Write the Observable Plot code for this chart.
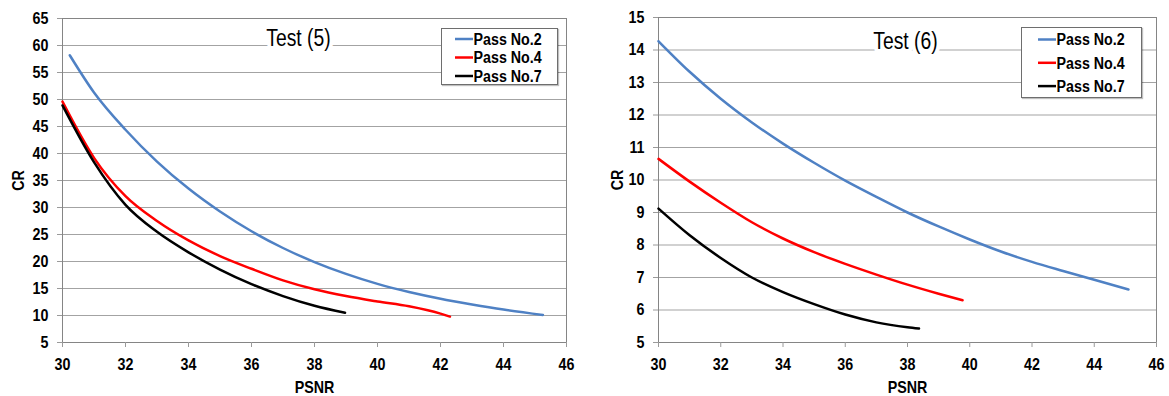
<!DOCTYPE html>
<html>
<head>
<meta charset="utf-8">
<script src="https://cdn.jsdelivr.net/npm/d3@7"></script>
<script src="https://cdn.jsdelivr.net/npm/@observablehq/plot@0.6"></script>
<style>
  html, body { margin: 0; padding: 0; background: #fff; }
  #wrap { position: relative; width: 1169px; height: 396px; overflow: hidden;
          font-family: "Liberation Sans", Arial, sans-serif; }
  .panel { position: absolute; top: 0; }
  .legend { position: absolute; background: #fff; border: 1px solid #6e6e6e;
            box-shadow: 1px 1px 1px rgba(0,0,0,0.25); }
  .legend svg { display: block; }
</style>
</head>
<body>
<div id="wrap"></div>
<script>
// Series names and colours shared by both panels
const seriesNames = ["Pass No.2", "Pass No.4", "Pass No.7"];
const seriesColors = ["#4f81c4", "#ff0000", "#000000"];

// Shared x ticks (PSNR)
const xTicks = [30, 32, 34, 36, 38, 40, 42, 44, 46];

// Test (5): compression ratio (CR) against PSNR
const test5Title = "Test (5)";
const test5YTicks = [5, 10, 15, 20, 25, 30, 35, 40, 45, 50, 55, 60, 65];
const test5Pass2 = [[30.23, 58.2], [31, 51.3], [32, 44.4], [33, 38.5], [34, 33.5], [35, 29.25], [36, 25.6], [37, 22.5], [38, 19.9], [39, 17.7], [40, 15.85], [41, 14.35], [42, 13.1], [43, 12.05], [44, 11.1], [45.25, 10.1]];
const test5Pass4 = [[30, 49.6], [31, 39.2], [32, 32.1], [33, 27.5], [34, 23.9], [35, 21.0], [36, 18.65], [37, 16.5], [38, 14.85], [39, 13.6], [40, 12.6], [41, 11.7], [42, 10.35], [42.3, 9.8]];
const test5Pass7 = [[30, 48.9], [31, 38.4], [32, 30.5], [33, 25.5], [34, 21.7], [35, 18.5], [36, 15.8], [37, 13.6], [38, 11.8], [38.97, 10.5]];

// Test (6): compression ratio (CR) against PSNR
const test6Title = "Test (6)";
const test6YTicks = [5, 6, 7, 8, 9, 10, 11, 12, 13, 14, 15];
const test6Pass2 = [[30, 14.27], [31, 13.33], [32, 12.5], [33, 11.77], [34, 11.12], [35, 10.53], [36, 9.98], [37, 9.48], [38, 9.0], [39, 8.57], [40, 8.17], [41, 7.8], [42, 7.48], [43, 7.2], [44, 6.93], [45.1, 6.63]];
const test6Pass4 = [[30, 10.65], [31, 9.95], [32, 9.3], [33, 8.7], [34, 8.2], [35, 7.78], [36, 7.42], [37, 7.09], [38, 6.78], [39, 6.5], [39.77, 6.3]];
const test6Pass7 = [[30, 9.12], [31, 8.3], [32, 7.6], [33, 7.0], [34, 6.55], [35, 6.18], [36, 5.86], [37, 5.62], [38, 5.47], [38.37, 5.43]];

const FONT = '"Liberation Sans", Arial, sans-serif';
const NARROW = 0.84; // horizontal squeeze giving a condensed face

function condense(root) {
  root.querySelectorAll("text").forEach((t) => {
    const len = t.getComputedTextLength();
    if (len > 0) {
      t.setAttribute("textLength", (len * NARROW).toFixed(2));
      t.setAttribute("lengthAdjust", "spacingAndGlyphs");
    }
  });
}

function toRows(series) {
  return series.flatMap((pts, i) => pts.map(([psnr, cr]) => ({ psnr, cr, pass: seriesNames[i] })));
}

function panel({ title, yTicks, series, left, width, marginLeft, marginRight, marginTop, yLabelOffset, titleDx, titleDy, legend }) {
  const rows = toRows(series);
  const chart = Plot.plot({
    width, height: 396,
    marginLeft, marginRight, marginTop, marginBottom: 54,
    style: { fontFamily: FONT, fontSize: "16px", fontWeight: "bold", color: "#000", background: "#fff" },
    x: { domain: [xTicks[0], xTicks[xTicks.length - 1]] },
    y: { domain: [yTicks[0], yTicks[yTicks.length - 1]] },
    color: { domain: seriesNames, range: seriesColors },
    marks: [
      Plot.gridY(yTicks, { stroke: "#a3a3a3", strokeOpacity: 1 }),
      Plot.frame({ stroke: "#858585" }),
      Plot.axisY({ ticks: yTicks, tickSize: 5, tickPadding: 9, stroke: "#9a9a9a",
                   label: "CR", labelAnchor: "center", labelArrow: "none", labelOffset: yLabelOffset, fontSize: 17 }),
      Plot.axisX({ ticks: xTicks, tickSize: 5, tickPadding: 10, stroke: "#9a9a9a",
                   label: "PSNR", labelAnchor: "center", labelArrow: "none", labelOffset: 50, fontSize: 17 }),
      Plot.line(rows, { x: "psnr", y: "cr", stroke: "pass", z: "pass", strokeWidth: 2.5, curve: "monotone-x" }),
      Plot.text([title], { frameAnchor: "top", lineAnchor: "middle", dx: titleDx, dy: titleDy,
                           fontSize: 23, fontWeight: "normal", fill: "#000",
                           stroke: "#fff", strokeWidth: 9, paintOrder: "stroke" })
    ]
  });
  const div = document.createElement("div");
  div.className = "panel";
  div.style.left = left + "px";
  div.appendChild(chart);
  document.getElementById("wrap").appendChild(div);
  condense(chart);

  // legend box overlaid in the upper right of the plot area;
  // entry text is scaled horizontally for a condensed look
  const lg = document.createElement("div");
  lg.className = "legend";
  lg.style.left = legend.x + "px";
  lg.style.top = legend.y + "px";
  const svg = d3.create("svg").attr("width", legend.w).attr("height", legend.h);
  seriesNames.forEach((name, i) => {
    const cy = legend.row0 + i * legend.step;
    svg.append("line").attr("x1", legend.sx0).attr("x2", legend.sx1).attr("y1", cy).attr("y2", cy)
      .attr("stroke", seriesColors[i]).attr("stroke-width", 2.5);
    svg.append("text")
      .attr("transform", `translate(${legend.sx1 + 0.5},${cy}) scale(${NARROW},1)`)
      .attr("dy", "0.35em")
      .attr("font-family", FONT).attr("font-size", 17).attr("font-weight", "bold")
      .text(name);
  });
  lg.appendChild(svg.node());
  document.getElementById("wrap").appendChild(lg);
}

panel({
  title: test5Title, yTicks: test5YTicks, series: [test5Pass2, test5Pass4, test5Pass7],
  left: 0, width: 585, marginLeft: 62, marginRight: 19, marginTop: 18, yLabelOffset: 51,
  titleDx: -16, titleDy: 20,
  legend: { x: 441, y: 28, w: 115, h: 55, row0: 10, step: 18.5, sx0: 13, sx1: 31 }
});

panel({
  title: test6Title, yTicks: test6YTicks, series: [test6Pass2, test6Pass4, test6Pass7],
  left: 590, width: 579, marginLeft: 68, marginRight: 13, marginTop: 17, yLabelOffset: 48,
  titleDx: -2, titleDy: 24,
  legend: { x: 1021, y: 27, w: 119, h: 69, row0: 11.5, step: 23.3, sx0: 16, sx1: 34 }
});
</script>
</body>
</html>
